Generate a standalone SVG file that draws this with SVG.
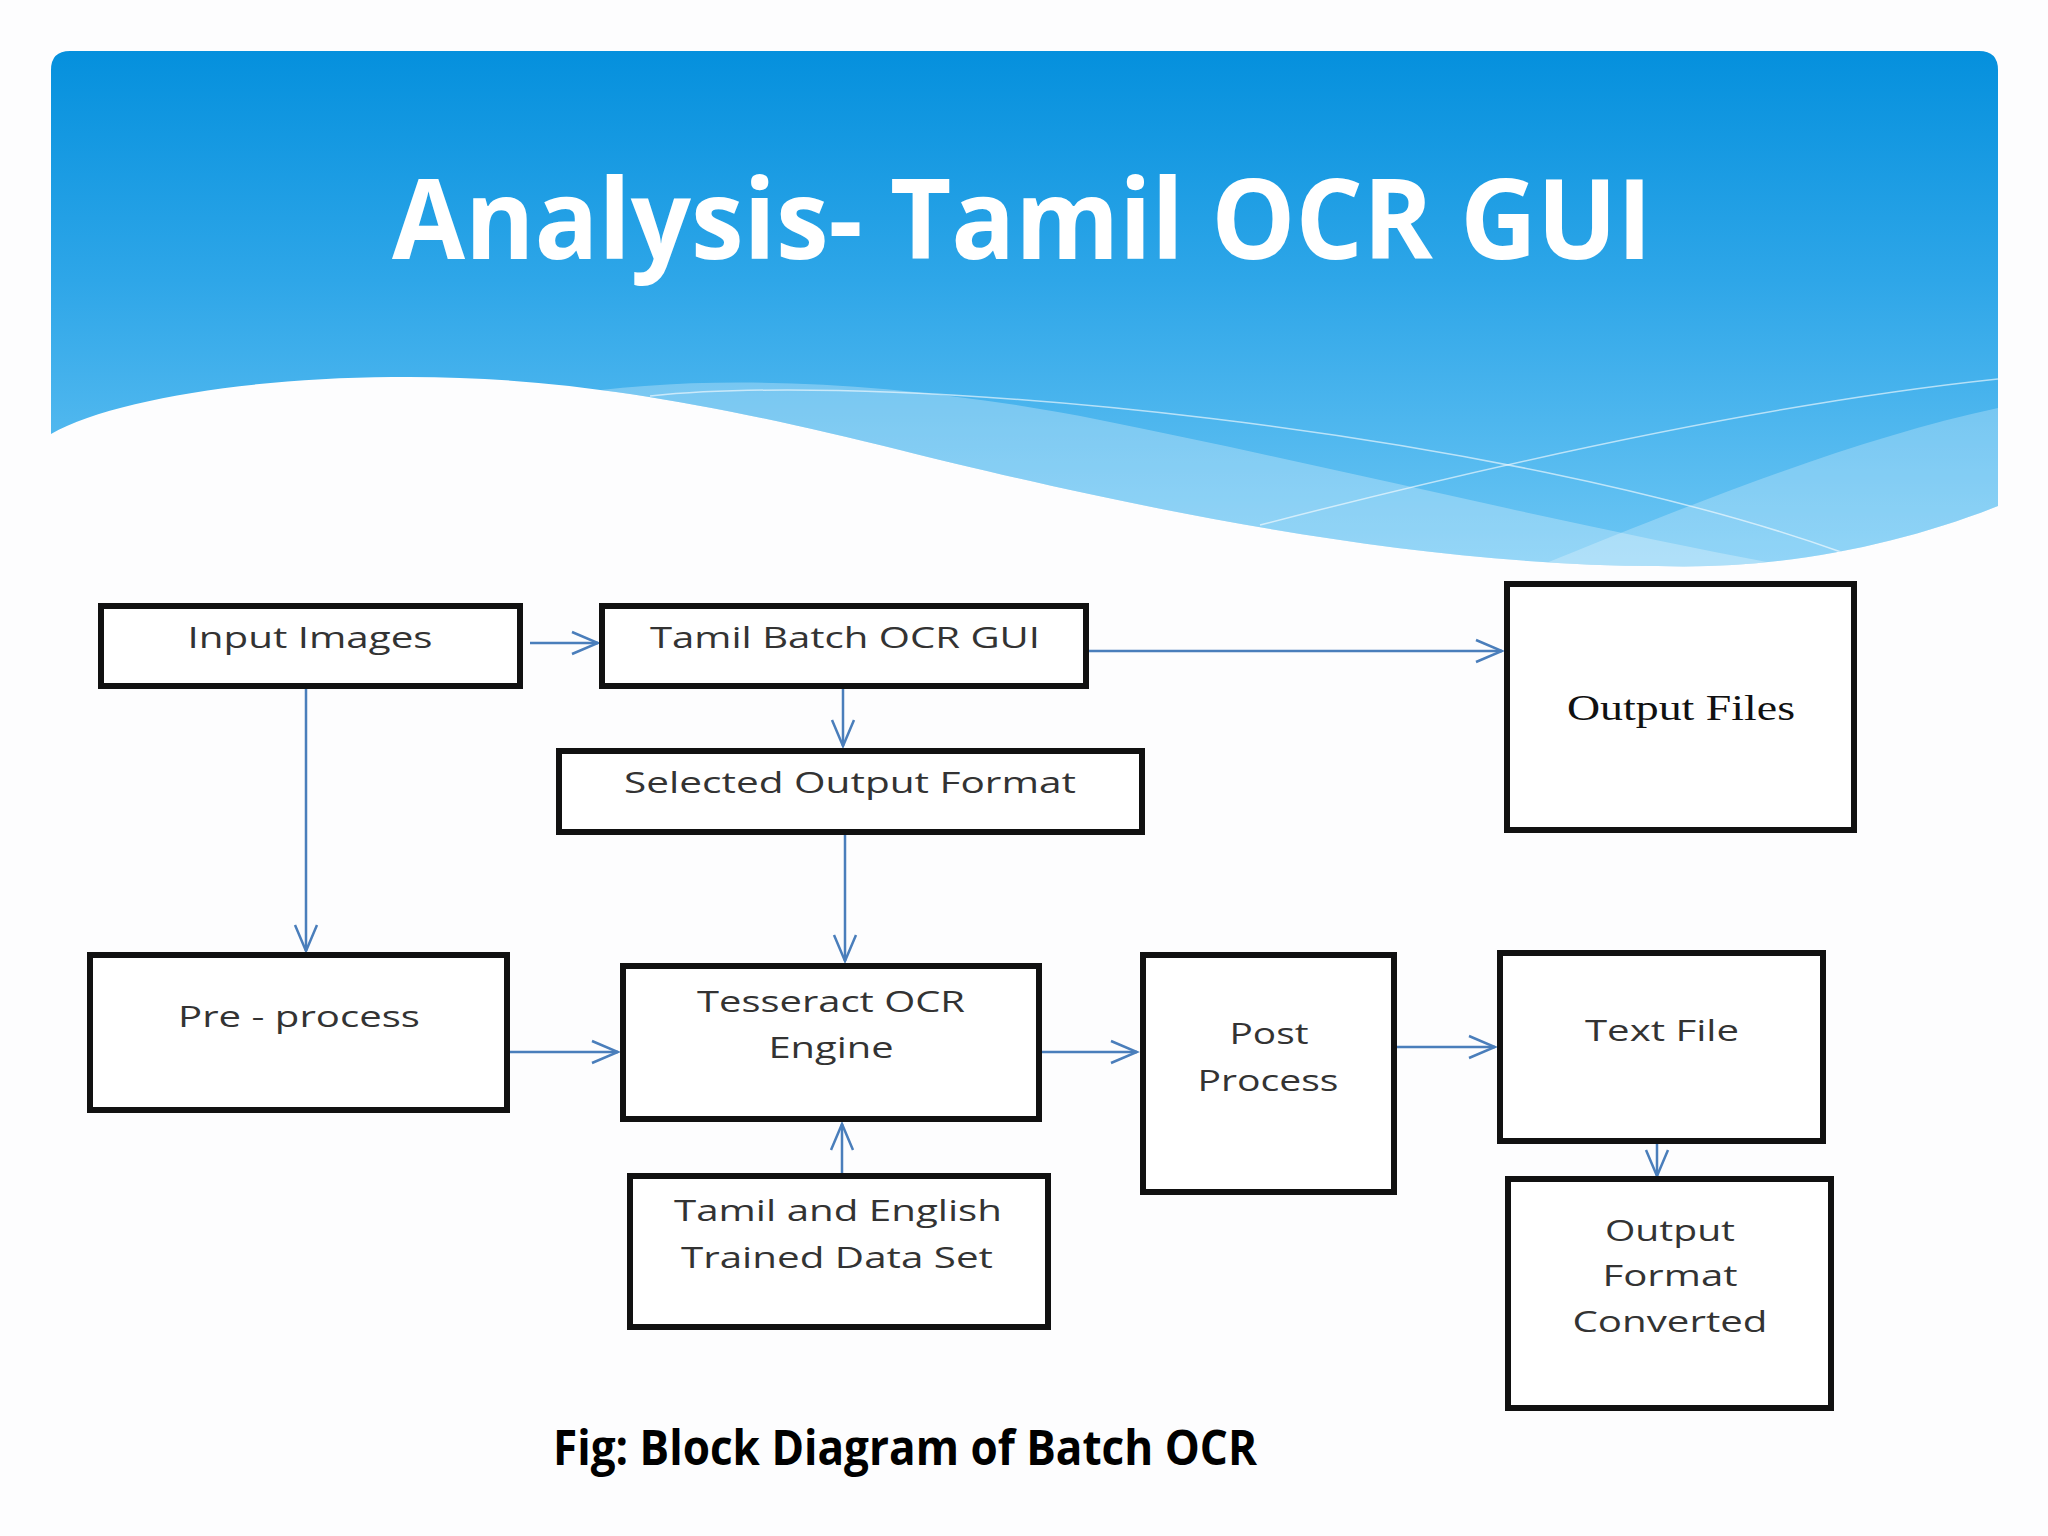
<svg xmlns="http://www.w3.org/2000/svg" width="2048" height="1536" viewBox="0 0 2048 1536">
<defs>
<linearGradient id="bannerGrad" x1="0" y1="51" x2="0" y2="560" gradientUnits="userSpaceOnUse">
<stop offset="0" stop-color="#0590dd"/>
<stop offset="0.45" stop-color="#2ea6e8"/>
<stop offset="1" stop-color="#6cc6f4"/>
</linearGradient>
<clipPath id="bannerClip">
<path d="M51,70 Q51,51 70,51 H1979 Q1998,51 1998,70 V506 C1900,545 1780,570 1658,566 C1400,566 1100,500 900,450 C700,400 550,375 392,377 C250,378 110,400 51,434 Z"/>
</clipPath>
<marker id="arr" markerUnits="userSpaceOnUse" markerWidth="32" markerHeight="28" viewBox="0 0 32 28" refX="29" refY="14" orient="auto">
<path d="M3,3 L29,14 L3,25" fill="none" stroke="#4a7ebb" stroke-width="2.5"/>
</marker>
<style>
.box{fill:#ffffff;stroke:#111111;stroke-width:6}
.lbl{font-family:"Open Sans","Liberation Sans",sans-serif;font-size:29px;fill:#333333;text-anchor:middle}
.serif{font-family:"Liberation Serif","DejaVu Serif",serif;font-size:35px;fill:#111111;text-anchor:middle}
.conn{fill:none;stroke:#4a7ebb;stroke-width:2.5;marker-end:url(#arr)}
</style>
</defs>
<rect x="0" y="0" width="2048" height="1536" fill="#fdfdfe"/>
<g id="banner" clip-path="url(#bannerClip)">
<rect x="51" y="51" width="1947" height="560" fill="url(#bannerGrad)"/>
<path d="M560,396 C700,372 900,380 1100,420 C1400,480 1700,560 1998,600 V700 H560 Z" fill="#ffffff" opacity="0.28"/>
<path d="M1998,408 C1850,440 1700,500 1480,590 L1998,640 Z" fill="#ffffff" opacity="0.25"/>
<path d="M650,396 C900,370 1500,430 1841,552" fill="none" stroke="#ffffff" stroke-width="1.5" opacity="0.6"/>
<path d="M1998,379 C1800,400 1550,450 1260,525" fill="none" stroke="#ffffff" stroke-width="1.5" opacity="0.6"/>
</g>
<text id="title" x="1022" y="259" font-family="'Open Sans','Liberation Sans',sans-serif" font-weight="700" font-size="112" fill="#ffffff" text-anchor="middle" textLength="1260" lengthAdjust="spacingAndGlyphs">Analysis- Tamil OCR GUI</text>
<g id="connectors">
<path class="conn" d="M530,643 H598"/>
<path class="conn" d="M1089,651 H1502"/>
<path class="conn" d="M843,689 V746"/>
<path class="conn" d="M306,689 V951"/>
<path class="conn" d="M845,835 V961"/>
<path class="conn" d="M510,1052 H618"/>
<path class="conn" d="M842,1173 V1124"/>
<path class="conn" d="M1042,1052 H1137"/>
<path class="conn" d="M1397,1047 H1495"/>
<path class="conn" d="M1657,1144 V1176"/>
</g>
<g id="input-images">
<rect class="box" x="101" y="606" width="419" height="80"/>
<text class="lbl" x="310" y="648" textLength="245" lengthAdjust="spacingAndGlyphs">Input Images</text>
</g>
<g id="tamil-batch-gui">
<rect class="box" x="602" y="606" width="484" height="80"/>
<text class="lbl" x="845" y="648" textLength="390" lengthAdjust="spacingAndGlyphs">Tamil Batch OCR GUI</text>
</g>
<g id="selected-output-format">
<rect class="box" x="559" y="751" width="583" height="81"/>
<text class="lbl" x="850" y="793" textLength="452" lengthAdjust="spacingAndGlyphs">Selected Output Format</text>
</g>
<g id="output-files">
<rect class="box" x="1507" y="584" width="347" height="246"/>
<text class="serif" x="1681" y="720" textLength="228" lengthAdjust="spacingAndGlyphs">Output Files</text>
</g>
<g id="pre-process">
<rect class="box" x="90" y="955" width="417" height="155"/>
<text class="lbl" x="299" y="1027" textLength="242" lengthAdjust="spacingAndGlyphs">Pre - process</text>
</g>
<g id="tesseract">
<rect class="box" x="623" y="966" width="416" height="153"/>
<text class="lbl" x="831" y="1012" textLength="268" lengthAdjust="spacingAndGlyphs">Tesseract OCR</text>
<text class="lbl" x="831" y="1058" textLength="125" lengthAdjust="spacingAndGlyphs">Engine</text>
</g>
<g id="trained-data">
<rect class="box" x="630" y="1176" width="418" height="151"/>
<text class="lbl" x="838" y="1221" textLength="328" lengthAdjust="spacingAndGlyphs">Tamil and English</text>
<text class="lbl" x="837" y="1268" textLength="312" lengthAdjust="spacingAndGlyphs">Trained Data Set</text>
</g>
<g id="post-process">
<rect class="box" x="1143" y="955" width="251" height="237"/>
<text class="lbl" x="1269" y="1044" textLength="79" lengthAdjust="spacingAndGlyphs">Post</text>
<text class="lbl" x="1268" y="1091" textLength="141" lengthAdjust="spacingAndGlyphs">Process</text>
</g>
<g id="text-file">
<rect class="box" x="1500" y="953" width="323" height="188"/>
<text class="lbl" x="1662" y="1041" textLength="154" lengthAdjust="spacingAndGlyphs">Text File</text>
</g>
<g id="output-format-converted">
<rect class="box" x="1508" y="1179" width="323" height="229"/>
<text class="lbl" x="1670" y="1241" textLength="130" lengthAdjust="spacingAndGlyphs">Output</text>
<text class="lbl" x="1670" y="1286" textLength="135" lengthAdjust="spacingAndGlyphs">Format</text>
<text class="lbl" x="1670" y="1332" textLength="195" lengthAdjust="spacingAndGlyphs">Converted</text>
</g>
<text id="caption" x="905" y="1465" font-family="'Open Sans','Liberation Sans',sans-serif" font-weight="700" font-size="49" fill="#000000" text-anchor="middle" textLength="704" lengthAdjust="spacingAndGlyphs">Fig: Block Diagram of Batch OCR</text>
</svg>
